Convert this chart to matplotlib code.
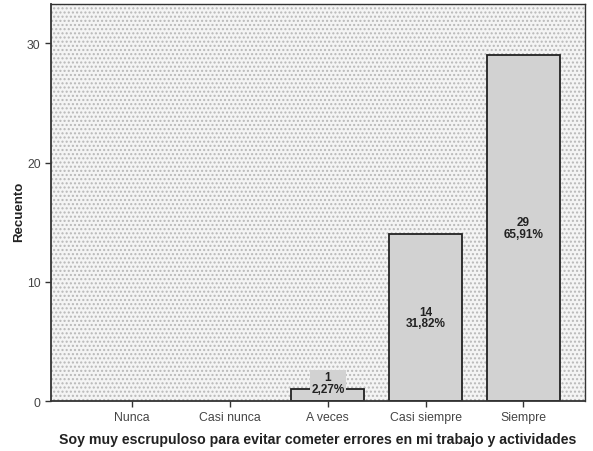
import matplotlib
matplotlib.use("Agg")
import matplotlib.pyplot as plt
import numpy as np

plt.rcParams['font.family'] = ['Liberation Sans', 'DejaVu Sans']
plt.rcParams['hatch.color'] = '#b0b0b0'
plt.rcParams['hatch.linewidth'] = 1.0

categories = ["Nunca", "Casi nunca", "A veces", "Casi siempre", "Siempre"]
counts = [0, 0, 1, 14, 29]
percents = ["", "", "2,27%", "31,82%", "65,91%"]
yticks = [0, 10, 20, 30]

fig = plt.figure(figsize=(5.93, 4.52), dpi=100)
ax = fig.add_axes([0.086, 0.1106, 0.9005, 0.8784])

# dotted background
ax.set_facecolor('white')
bg = plt.Rectangle((0, 0), 1, 1, transform=ax.transAxes, facecolor='#f4f4f4',
                   hatch='....', edgecolor='#b8b8b8', linewidth=0, zorder=0)
ax.add_patch(bg)

x = np.arange(len(categories))
for xi, c, p in zip(x, counts, percents):
    if c <= 0:
        continue
    ax.bar(xi, c, width=0.75, color='#d2d2d2', edgecolor='#222222', linewidth=1.3, zorder=2)
    label = f"{c}\n{p}"
    if c < 3:
        ax.text(xi, c + 0.5, label, ha='center', va='center', fontsize=8.5, fontweight='bold',
                color='#222222', linespacing=0.95, zorder=3,
                bbox=dict(facecolor='#d2d2d2', edgecolor='none', pad=1.0))
    else:
        ax.text(xi, c / 2, label, ha='center', va='center', fontsize=8.5, fontweight='bold',
                color='#222222', linespacing=0.95, zorder=3)

ax.set_xlim(-0.83, 4.63)
ax.set_ylim(0, 33.3)
ax.set_xticks(x)
ax.set_xticklabels(categories, fontsize=8.8, color='#444444')
ax.set_yticks(yticks)
ax.set_yticklabels([str(v) for v in yticks], fontsize=8.8, color='#444444')
ax.tick_params(axis='both', length=4, width=1, color='#333333')

for s in ax.spines.values():
    s.set_color('#333333')
    s.set_linewidth(1.0)
ax.spines['left'].set_linewidth(1.3)
ax.spines['bottom'].set_linewidth(1.3)

ax.set_xlabel("Soy muy escrupuloso para evitar cometer errores en mi trabajo y actividades",
              fontsize=10.2, fontweight='bold', color='#222222', labelpad=6)
ax.set_ylabel("Recuento", fontsize=9.5, fontweight='bold', color='#222222')
ax.yaxis.set_label_coords(-0.049, 0.479)

fig.savefig("out.png", dpi=100)
